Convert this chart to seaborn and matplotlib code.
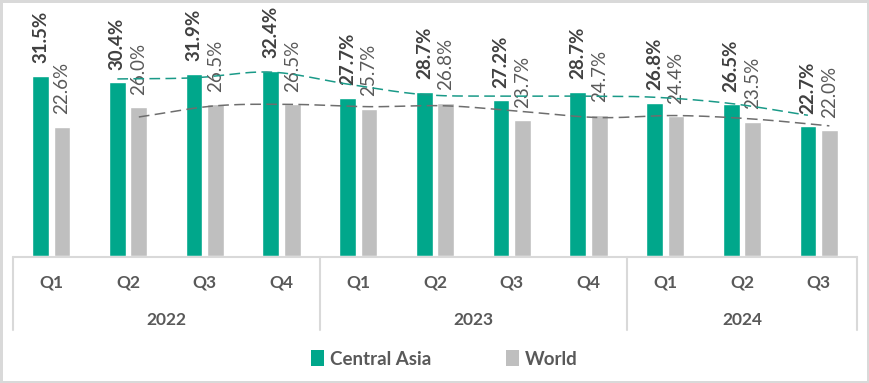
import numpy as np
import pandas as pd
import matplotlib
matplotlib.use("Agg")
import matplotlib.pyplot as plt
import matplotlib.transforms as mtransforms
from matplotlib.lines import Line2D
from matplotlib.patches import Patch
import seaborn as sns

# ---- data ----
years = ["2022", "2023", "2024"]
quarters = ["Q1", "Q2", "Q3", "Q4", "Q1", "Q2", "Q3", "Q4", "Q1", "Q2", "Q3"]
quarter_year = ["2022", "2022", "2022", "2022", "2023", "2023", "2023", "2023", "2024", "2024", "2024"]
central_asia = [31.5, 30.4, 31.9, 32.4, 27.7, 28.7, 27.2, 28.7, 26.8, 26.5, 22.7]
world = [22.6, 26.0, 26.5, 26.5, 25.7, 26.8, 23.7, 24.7, 24.4, 23.5, 22.0]
series_names = ["Central Asia", "World"]

GREEN = "#00A78B"
GREY = "#BFBFBF"
TXT = "#595959"
BORDER = "#D9D9D9"

sns.set_theme(style="white")
plt.rcParams["font.family"] = ["Lato", "DejaVu Sans"]

periods = [f"{y} {q}" for y, q in zip(quarter_year, quarters)]
df = pd.DataFrame({
    "period": periods * 2,
    "series": [series_names[0]] * len(periods) + [series_names[1]] * len(periods),
    "value": central_asia + world,
})

W, H, DPI = 869, 383, 100
fig = plt.figure(figsize=(W / DPI, H / DPI), dpi=DPI)
fig.patch.set_facecolor("white")
fig.patch.set_edgecolor(BORDER)
fig.patch.set_linewidth(2.5)

left, right, bottom_px, top_px = 13, 857, 256, 10
ax = fig.add_axes([left / W, (H - bottom_px) / H, (right - left) / W, (bottom_px - top_px) / H])

sns.barplot(data=df, x="period", y="value", hue="series", order=periods,
            hue_order=series_names, palette=[GREEN, GREY], width=0.56, gap=0.22,
            legend=False, ax=ax, saturation=1)

ax.set_xlim(-0.5, len(periods) - 0.5)
ax.set_ylim(0, 43)
for s in ax.spines.values():
    s.set_visible(False)
ax.set_xticks([])
ax.set_yticks([])
ax.set_xlabel("")
ax.set_ylabel("")

# bar labels
ax.bar_label(ax.containers[0], labels=[f"{v:.1f}%" for v in central_asia], rotation=90,
             padding=9, fontsize=13.5, fontweight="bold", color="#404040")
ax.bar_label(ax.containers[1], labels=[f"{v:.1f}%" for v in world], rotation=90,
             padding=9, fontsize=13.5, color=TXT)

# moving-average (2 period) trendlines, smoothed
def catmull(xs, ys, n=20):
    xs = np.asarray(xs, float); ys = np.asarray(ys, float)
    px = np.concatenate([[2 * xs[0] - xs[1]], xs, [2 * xs[-1] - xs[-2]]])
    py = np.concatenate([[2 * ys[0] - ys[1]], ys, [2 * ys[-1] - ys[-2]]])
    ox, oy = [], []
    t = np.linspace(0, 1, n)
    for i in range(1, len(px) - 2):
        for arr, o in ((px, ox), (py, oy)):
            p0, p1, p2, p3 = arr[i - 1], arr[i], arr[i + 1], arr[i + 2]
            seg = 0.5 * ((2 * p1) + (-p0 + p2) * t + (2 * p0 - 5 * p1 + 4 * p2 - p3) * t ** 2
                         + (-p0 + 3 * p1 - 3 * p2 + p3) * t ** 3)
            o.extend(seg if i == 1 else seg[1:])
    return np.array(ox), np.array(oy)

def bar_centers(container):
    return [p.get_x() + p.get_width() / 2 for p in container.patches]

for cont, vals, col in ((ax.containers[0], central_asia, "#1A9A88"),
                        (ax.containers[1], world, "#6E6E6E")):
    xc = bar_centers(cont)
    ma = [(vals[i - 1] + vals[i]) / 2 for i in range(1, len(vals))]
    sx, sy = catmull(xc[1:], ma)
    ax.plot(sx, sy, color=col, lw=1.1, linestyle=(0, (7, 3.5)), zorder=3)

# category axis box
trans = mtransforms.blended_transform_factory(ax.transData, ax.transAxes)
axis_y = -1 / (bottom_px - top_px)
low_y = -(330 - bottom_px) / (bottom_px - top_px)
n = len(periods)
ax.add_line(Line2D([-0.5, n - 0.5], [axis_y, axis_y], transform=trans, color=BORDER,
                   lw=1.5, clip_on=False))
for xb in [-0.5, 3.5, 7.5, n - 0.5]:
    ax.add_line(Line2D([xb, xb], [axis_y, low_y], transform=trans, color=BORDER,
                       lw=1.5, clip_on=False))

q_y = -(282 - bottom_px) / (bottom_px - top_px)
y_y = -(320 - bottom_px) / (bottom_px - top_px)
for i, q in enumerate(quarters):
    ax.text(i, q_y, q, transform=trans, ha="center", va="center", fontsize=12.5,
            fontweight="bold", color=TXT)
year_centers = [1.5, 5.5, 9.0]
for xc, y in zip(year_centers, years):
    ax.text(xc, y_y, y, transform=trans, ha="center", va="center", fontsize=12.5,
            fontweight="bold", color=TXT)

# legend
handles = [Patch(facecolor=GREEN, edgecolor="none"), Patch(facecolor=GREY, edgecolor="none")]
fig.legend(handles, series_names, loc="center", bbox_to_anchor=(444 / W, 1 - 359 / H),
           ncol=2, frameon=False, handlelength=0.7, handleheight=0.9, handletextpad=0.3,
           columnspacing=4.0, prop={"size": 13.5, "weight": "bold"}, labelcolor=TXT)

fig.savefig("out.png", dpi=DPI, facecolor=fig.get_facecolor(), edgecolor=fig.get_edgecolor())
